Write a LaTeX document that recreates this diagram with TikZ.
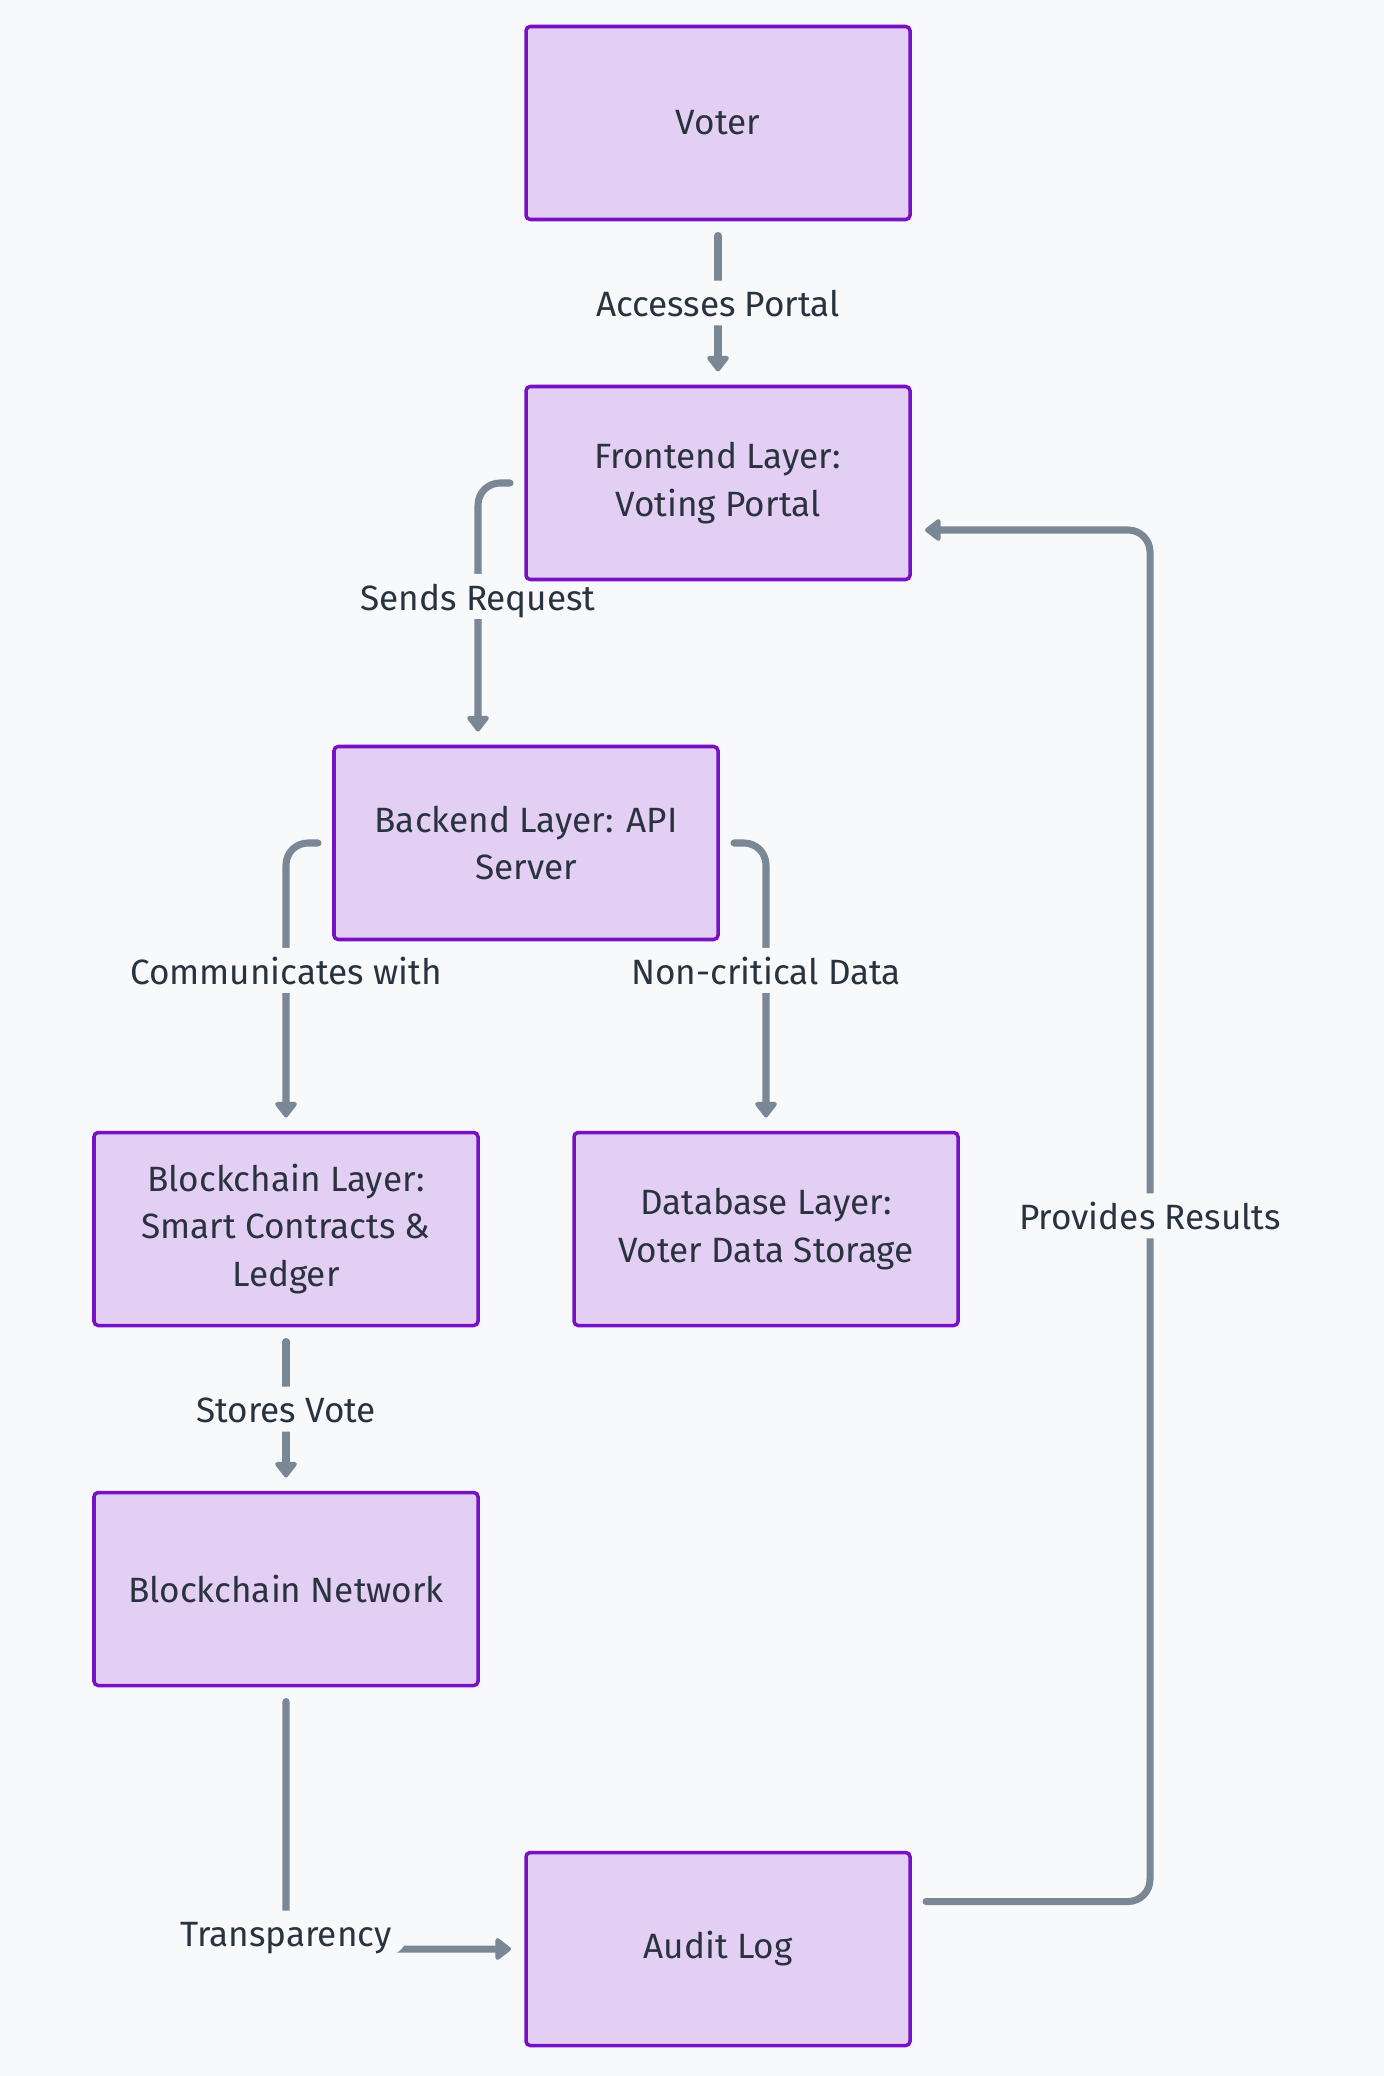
\documentclass[tikz,border=0pt]{standalone}
\usepackage{xcolor}
\usepackage{fontspec}
\setmainfont{Fira Sans}
\usepackage{tikz}
\usetikzlibrary{shapes,arrows.meta,positioning,backgrounds}

\definecolor{pagebg}{HTML}{F8F9FA}
\definecolor{boxfill}{HTML}{E4CFF4}
\definecolor{boxline}{HTML}{7810C6}
\definecolor{edgegray}{HTML}{7A8794}
\definecolor{textdark}{HTML}{29333F}

\begin{document}
\begin{tikzpicture}[
    node distance=1.67cm,
    font=\fontsize{10}{13.5}\selectfont,
    box/.style={rectangle, draw=boxline, fill=boxfill, line width=1pt, rounded corners=1.2pt, outer sep=0pt, minimum width=3.84cm, minimum height=1.93cm, align=center, text=textdark},
    edge/.style={draw=edgegray, line width=2pt, line cap=round, rounded corners=0.22cm, shorten <=0.16cm, shorten >=0.15cm, -{Triangle[length=0.17cm, width=0.25cm, round]}},
    lbl/.style={fill=pagebg, text=textdark, inner xsep=4.5pt, inner ysep=2.3pt, text height=8pt, text depth=0.2pt},
]

\path[use as bounding box] (0,0) rectangle (13.84,-20.76);

% Voter and portal
\node[box] (voter) at (7.18,-1.23) {Voter};
\node[box, below=of voter] (frontend) {Frontend Layer:\\Voting Portal};

% Backend
\node[box, below=of frontend, xshift=-1.92cm] (backend) {Backend Layer: API\\Server};

% Storage layers
\node[box, below=1.93cm of backend, xshift=-2.4cm] (chainlayer) {Blockchain Layer:\\Smart Contracts \&\\Ledger};
\node[box, below=1.93cm of backend, xshift=2.4cm] (database) {Database Layer:\\Voter Data Storage};
\node[box, below=of chainlayer] (network) {Blockchain Network};
\node[box, below=of network, xshift=4.32cm] (audit) {Audit Log};

% Arrows (behind the boxes)
\begin{scope}[on background layer]
\fill[pagebg] (0,0) rectangle (13.84,-20.76);
\draw[edge] (voter) -- node[lbl] {Accesses Portal} (frontend);
\draw[edge] (frontend.west) -| node[lbl, pos=0.715] {Sends Request} ([xshift=-0.48cm]backend.north);
\draw[edge] (backend.west) -| node[lbl, pos=0.72] {Communicates with} (chainlayer);
\draw[edge] (backend.east) -| node[lbl, pos=0.72] {Non-critical Data} (database);
\draw[edge] (chainlayer) -- node[lbl] {Stores Vote} (network);
\draw[edge] (network) |- node[lbl, pos=0.47] {Transparency} (audit);
\draw[edge] ([yshift=0.475cm]audit.east) -- ++(2.4,0) |- node[lbl, pos=0.25] {Provides Results} ([yshift=-0.47cm]frontend.east);
\end{scope}

\end{tikzpicture}
\end{document}
